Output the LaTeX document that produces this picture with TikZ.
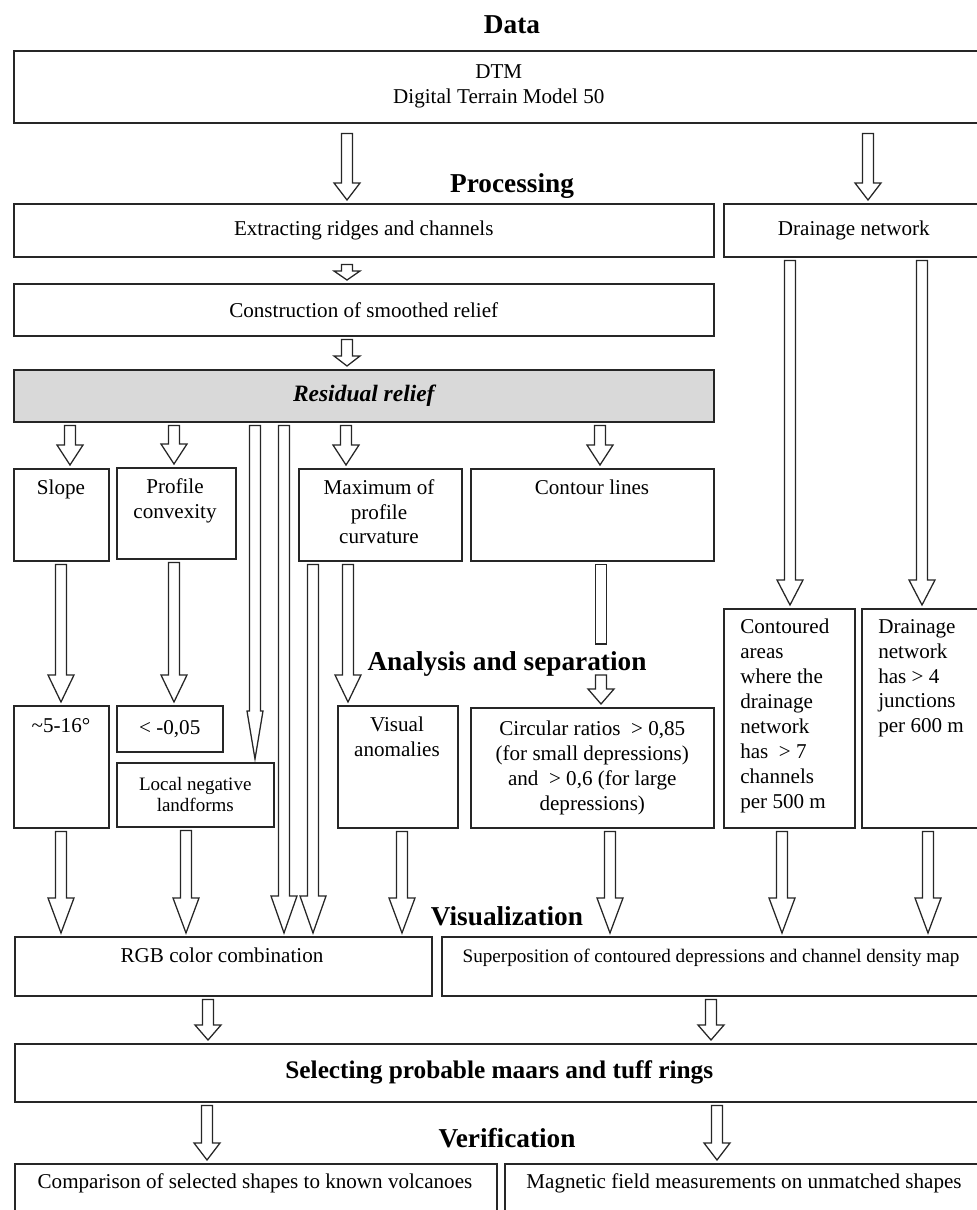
\documentclass[tikz,border=0pt]{standalone}
\usepackage{fontspec}
\setmainfont{Liberation Serif}
\usetikzlibrary{positioning,calc}

\newcommand{\hw}{13}
\newcommand{\sg}{3}
\newcommand{\blk}[4][20]{%
  \draw[barrow] let \p1=(#3 -| #2,0), \p2=(#4 -| #2,0) in
    ($(\p1)+(-5.5,\sg)$) -- ($(\p1)+(5.5,\sg)$) -- ($(\p2)+(5.5,-3-#1)$)
    -- ($(\p2)+(\hw,-3-#1)$) -- ($(\p2)+(0,-3)$) -- ($(\p2)+(-\hw,-3-#1)$)
    -- ($(\p2)+(-5.5,-3-#1)$) -- cycle;}

\begin{document}
\begin{tikzpicture}[x=0.025cm,y=-0.025cm,font=\fontsize{15}{17.7}\selectfont,
  box/.style={draw=black!85,line width=1.1pt,anchor=north west,inner sep=0pt,align=center},
  wh/.style 2 args={minimum width=#1*0.025cm,minimum height=#2*0.025cm},
  txt/.style={anchor=north,inner sep=0pt,align=center},
  hd/.style={anchor=base,inner sep=0pt,font=\fontsize{19.4}{22}\selectfont\bfseries},
  barrow/.style={draw=black!85,line width=0.9pt,fill=white}]
\useasboundingbox (0,0) rectangle (976,1210);
\node[hd] (tdata) at (512,33) {Data};
\node[box,wh={970}{72}] (dtm) at (13,50) {DTM\\Digital Terrain Model 50};
\node[hd] (tproc) at (512,192) {Processing};
\node[box,wh={700}{53}] (ext) at (13,203) {Extracting ridges and channels};
\node[box,wh={260}{53}] (drain) at (723,203) {Drainage network};
\node[box,wh={700}{52}] (cons) at (13,283) {Construction of smoothed relief};
\node[box,wh={700}{52},fill=black!15,font=\fontsize{16.7}{20}\selectfont\bfseries\itshape] (res) at (13,369) {Residual relief};
\node[box,wh={95}{92}] (slope) at (13,468) {};
\node[txt] (slopet) at (61,480) {Slope};
\node[box,wh={119}{91}] (prof) at (116,467) {};
\node[txt] (proft) at (175,478) {Profile\\convexity};
\node[box,wh={163}{92}] (maxc) at (298,468) {};
\node[txt] (maxct) at (379,479) {Maximum of\\profile\\curvature};
\node[box,wh={243}{92}] (cont) at (470,468) {};
\node[txt] (contt) at (592,480) {Contour lines};
\node[hd] (tanal) at (507,670) {Analysis and separation};
\node[box,wh={95}{122}] (deg) at (13,705) {};
\node[txt] (degt) at (61,718) {\textasciitilde5-16\textdegree};
\node[box,wh={106}{46}] (conv) at (116,705) {< -0,05};
\node[box,wh={157}{64},font=\fontsize{13.5}{15}\selectfont] (lnl) at (116,762) {Local negative\\landforms};
\node[box,wh={120}{122}] (vis) at (337,705) {};
\node[txt] (vist) at (397,717) {Visual\\anomalies};
\node[box,wh={243}{120}] (circ) at (470,707) {Circular ratios~ > 0,85\\(for small depressions)\\and~ > 0,6 (for large\\depressions)};
\node[box,wh={131}{219}] (carea) at (723,608) {};
\node[txt,anchor=north west,align=left] (careat) at (740,619) {Contoured\\areas\\where the\\drainage\\network\\has~ > 7\\channels\\per 500 m};
\node[box,wh={122}{219}] (dnet) at (861,608) {};
\node[txt,anchor=north west,align=left] (dnett) at (878,619) {Drainage\\network\\has > 4\\junctions\\per 600 m};
\node[hd] (tvis) at (507,925) {Visualization};
\node[box,wh={417}{59}] (rgb) at (14,936) {};
\node[txt] (rgbt) at (222,948) {RGB color combination};
\node[box,wh={542}{59}] (sup) at (441,936) {};
\node[txt,font=\fontsize{13.6}{16}\selectfont] (supt) at (711,949) {Superposition of contoured depressions and channel density map};
\node[box,wh={969}{58},font=\fontsize{18}{21}\selectfont\bfseries] (sel) at (14,1043) {Selecting probable maars and tuff rings};
\node[hd] (tver) at (507,1147) {Verification};
\node[box,wh={482}{80}] (comp) at (14,1163) {};
\node[txt] (compt) at (255,1173) {Comparison of selected shapes to known volcanoes};
\node[box,wh={479}{80}] (mag) at (504,1163) {};
\node[txt] (magt) at (744,1173) {Magnetic field measurements on unmatched shapes};

{\renewcommand{\sg}{10}
\blk[17]{347}{dtm.south}{ext.north}
\blk[17]{868}{dtm.south}{drain.north}}
{\renewcommand{\sg}{7}\blk[9]{347}{ext.south}{cons.north}}
\blk[10]{347}{cons.south}{res.north}
\blk{70}{res.south}{slope.north}
\blk{174}{res.south}{prof.north}
\blk{346}{res.south}{maxc.north}
\blk{600}{res.south}{cont.north}
{\renewcommand{\hw}{8}\blk[48]{255}{res.south}{lnl.north}}
\blk[37]{284}{res.south}{rgb.north}
\blk[37]{313}{maxc.south}{rgb.north}
\blk[27]{61}{slope.south}{deg.north}
\blk[27]{174}{prof.south}{conv.north}
\blk[27]{348}{maxc.south}{vis.north}
\blk[25]{790}{drain.south}{carea.north}
\blk[25]{922}{drain.south}{dnet.north}
\coordinate (gapt) at (601,644);
\coordinate (gapb) at (601,672);
\draw[barrow] let \p1=(cont.south -| 601,0) in ($(\p1)+(-5.5,3)$) rectangle ($(gapt)+(5.5,0)$);
\blk[15]{601}{gapb}{circ.north}
\blk[35]{61}{deg.south}{rgb.north}
\blk[35]{186}{lnl.south}{rgb.north}
\blk[35]{402}{vis.south}{rgb.north}
\blk[35]{610}{circ.south}{sup.north}
\blk[35]{782}{carea.south}{sup.north}
\blk[35]{928}{dnet.south}{sup.north}
\blk[15]{208}{rgb.south}{sel.north}
\blk[15]{711}{sup.south}{sel.north}
\blk[17]{207}{sel.south}{comp.north}
\blk[17]{717}{sel.south}{mag.north}
\end{tikzpicture}
\end{document}
